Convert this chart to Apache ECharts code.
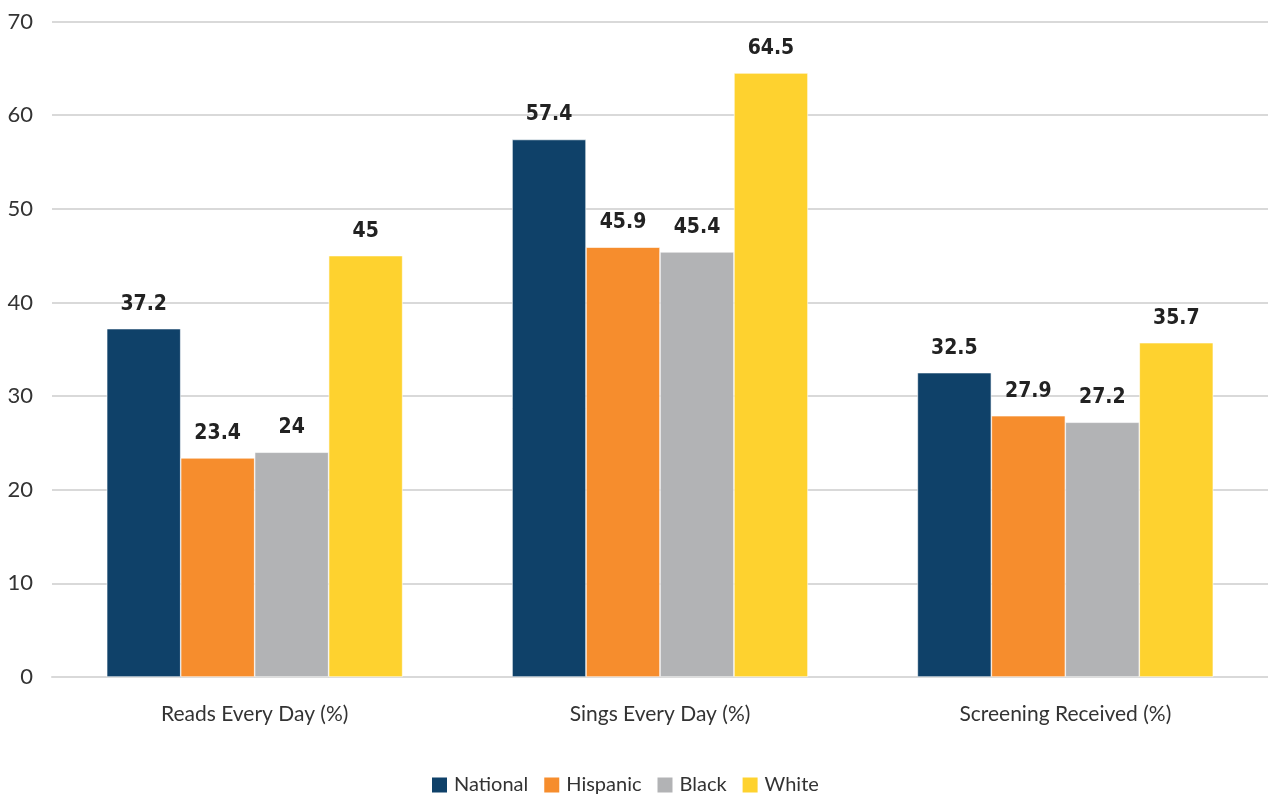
<!DOCTYPE html>
<html>
<head>
<meta charset="utf-8">
<script src="https://cdn.jsdelivr.net/npm/echarts@6/dist/echarts.min.js"></script>
<style>
  html, body { margin: 0; padding: 0; background: #fff; }
  #chart { width: 1268px; height: 797px; }
</style>
</head>
<body>
<div id="chart"></div>
<script>
// Measures shown along the x axis
const categories = ['Reads Every Day (%)', 'Sings Every Day (%)', 'Screening Received (%)'];

// Percent values per group
const nationalValues = [37.2, 57.4, 32.5];
const hispanicValues = [23.4, 45.9, 27.9];
const blackValues = [24, 45.4, 27.2];
const whiteValues = [45, 64.5, 35.7];

const seriesNames = ['National', 'Hispanic', 'Black', 'White'];
const seriesColors = ['#0f4169', '#f68d2d', '#b2b3b5', '#fed22f'];
const seriesData = [nationalValues, hispanicValues, blackValues, whiteValues];

const chart = echarts.init(document.getElementById('chart'));

chart.setOption({
  animation: false,
  grid: { left: 52, right: 0, top: 21.5, bottom: 120, containLabel: false },
  legend: {
    data: seriesNames,
    top: 775,
    left: 430,
    padding: 0,
    itemWidth: 17,
    itemHeight: 17,
    itemGap: 14,
    icon: 'rect',
    textStyle: { fontFamily: 'Lato', fontSize: 20, color: '#333', padding: [0, 0, 0, 1] }
  },
  xAxis: {
    type: 'category',
    data: categories,
    axisLine: { lineStyle: { color: '#d9d9d9', width: 2 } },
    axisTick: { show: false },
    axisLabel: { fontFamily: 'Lato', fontSize: 21, color: '#333', margin: 27 }
  },
  yAxis: {
    type: 'value',
    min: 0,
    max: 70,
    interval: 10,
    axisLine: { show: false },
    axisTick: { show: false },
    splitLine: { lineStyle: { color: '#d9d9d9', width: 2 } },
    axisLabel: { fontFamily: 'Lato', fontSize: 22, color: '#333', margin: 19 }
  },
  series: seriesNames.map((name, i) => ({
    name: name,
    type: 'bar',
    data: seriesData[i],
    barGap: '0%',
    barCategoryGap: '27%',
    itemStyle: { color: seriesColors[i], borderColor: '#ffffff', borderWidth: 0.6 },
    label: {
      show: true,
      position: 'top',
      distance: 14,
      fontFamily: 'DejaVu Sans Condensed',
      fontWeight: 'bold',
      fontSize: 21,
      color: '#222'
    }
  }))
});
</script>
</body>
</html>
